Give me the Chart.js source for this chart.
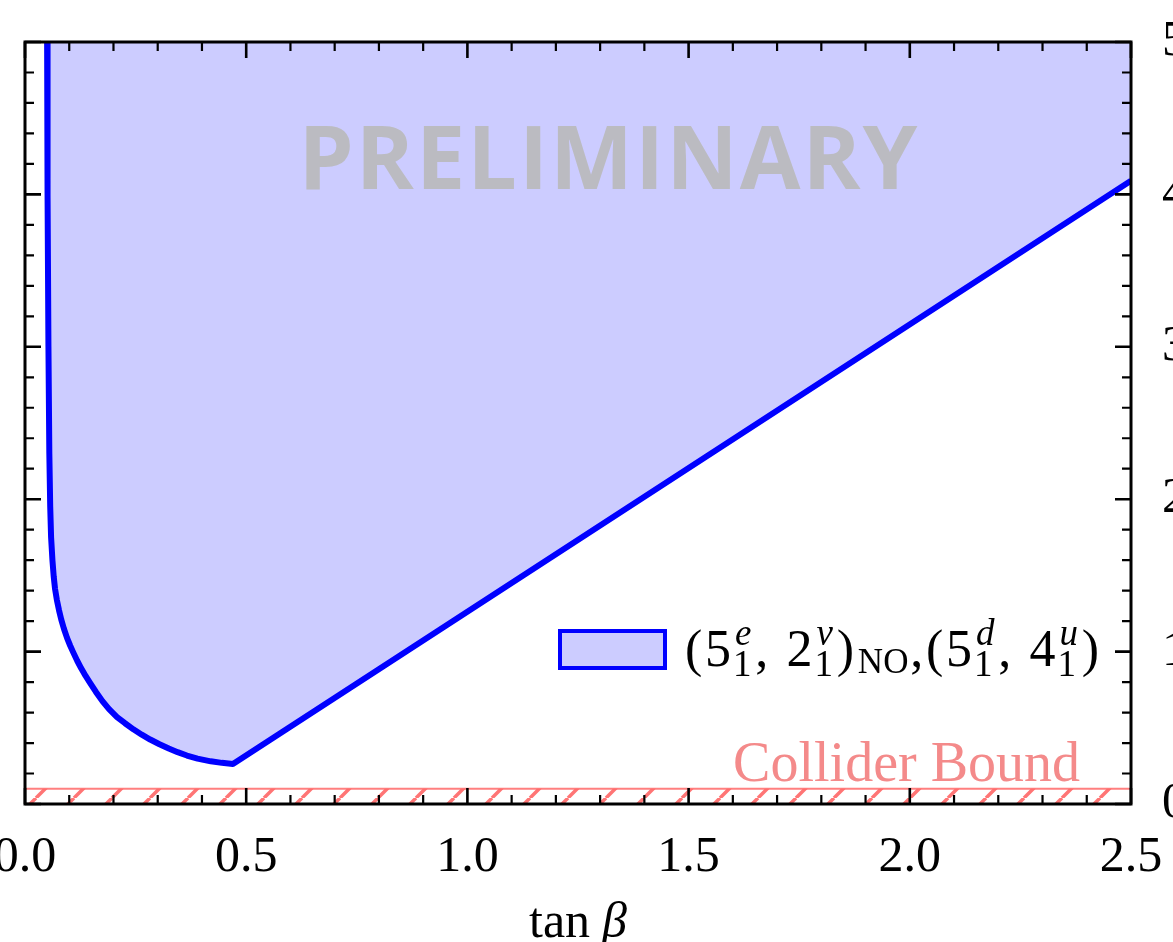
<!DOCTYPE html>
<html><head><meta charset="utf-8">
<script src="https://cdn.jsdelivr.net/npm/chart.js@4/dist/chart.umd.min.js"></script>
<style>
html,body{margin:0;padding:0;background:#fff;overflow:hidden;width:1173px;height:942px;}
#wrap{position:absolute;left:-40px;top:0;width:1253px;height:942px;}
</style></head><body>
<div id="wrap"><canvas id="c"></canvas></div>
<script>
// ---- data ----
const tanBeta     = [0.050, 0.051, 0.053, 0.055, 0.057, 0.059, 0.062, 0.065, 0.068, 0.072, 0.077, 0.082, 0.088, 0.095, 0.102, 0.109, 0.118, 0.127, 0.137, 0.147, 0.160, 0.175, 0.190, 0.208, 0.226, 0.245, 0.264, 0.283, 0.304, 0.325, 0.345, 0.366, 0.390, 0.420, 0.445, 0.470, 2.500];
const boundaryVal = [5.00,  4.00,  3.00,  2.30,  1.95,  1.75,  1.60,  1.49,  1.41,  1.34,  1.27,  1.21,  1.15,  1.09,  1.04,  0.995, 0.94,  0.89,  0.84,  0.795, 0.737, 0.675, 0.622, 0.570, 0.530, 0.490, 0.455, 0.423, 0.392, 0.364, 0.340, 0.318, 0.298, 0.280, 0.270, 0.262, 4.09];
const colliderX = [0, 2.5];
const colliderY = [0.1, 0.1];
const xMajorTicks = [0, 0.5, 1.0, 1.5, 2.0, 2.5];
const yMajorTicks = [0, 1, 2, 3, 4, 5];
const xMinorTicks = [0,0.1,0.2,0.3,0.4,0.5,0.6,0.7,0.8,0.9,1.0,1.1,1.2,1.3,1.4,1.5,1.6,1.7,1.8,1.9,2.0,2.1,2.2,2.3,2.4,2.5];
const yMinorTicks = [0,0.2,0.4,0.6,0.8,1.0,1.2,1.4,1.6,1.8,2.0,2.2,2.4,2.6,2.8,3.0,3.2,3.4,3.6,3.8,4.0,4.2,4.4,4.6,4.8,5.0];
const seriesLabelParts = [
  {t:'('}, {t:'5', sup:'e', sub:'1'}, {t:','}, {t:'2', sup:'ν', sub:'1'}, {t:')'}, {small:'NO'},
  {t:','}, {t:'('}, {t:'5', sup:'d', sub:'1'}, {t:','}, {t:'4', sup:'u', sub:'1'}, {t:')'}
];
const colliderLabel = 'Collider Bound';
const watermark = 'PRELIMINARY';
const xTitleParts = ['tan', 'β'];

const SERIF = '"Liberation Serif", "DejaVu Serif", serif';

function hatchPattern() {
  const s = 38;
  const c = document.createElement('canvas');
  c.width = s; c.height = s;
  const g = c.getContext('2d');
  g.strokeStyle = 'rgba(255,110,110,0.95)';
  g.lineWidth = 3.5;
  g.beginPath();
  for (const k of [-1, 0, 1]) { g.moveTo(k * s, s); g.lineTo(k * s + s, 0); }
  g.stroke();
  return g.createPattern(c, 'repeat');
}

const overlay = {
  id: 'overlay',
  afterDatasetsDraw(chart) {
    const {ctx, chartArea: ca} = chart;
    ctx.save();
    ctx.font = '700 88px "Open Sans", "Lato", sans-serif';
    try { ctx.letterSpacing = '2px'; } catch (e) {}
    ctx.fillStyle = 'rgba(186,186,188,0.92)';
    ctx.textAlign = 'center';
    ctx.textBaseline = 'alphabetic';
    ctx.fillText(watermark, ca.left + 584, ca.top + 147);
    ctx.restore();
  },
  afterDraw(chart) {
    const {ctx, chartArea: ca} = chart;
    const xs = chart.scales.x, ys = chart.scales.y;
    ctx.save();

    // collider label
    ctx.font = '56px ' + SERIF;
    ctx.fillStyle = '#f48a8a';
    ctx.textAlign = 'right';
    ctx.textBaseline = 'alphabetic';
    ctx.fillText(colliderLabel, ca.right - 51, ca.bottom - 23);

    // legend
    const textLeft = ca.left + 660, base = ca.top + 624, targetW = 414;
    const boxR = textLeft - 20, boxL = boxR - 105, boxT = ca.top + 589, boxH = 37;
    ctx.fillStyle = 'rgba(0,0,255,0.2)';
    ctx.fillRect(boxL, boxT, boxR - boxL, boxH);
    ctx.strokeStyle = '#0000ff';
    ctx.lineWidth = 4;
    ctx.strokeRect(boxL, boxT, boxR - boxL, boxH);

    const MAIN = '52px ' + SERIF, SUBF = '37px ' + SERIF, SUPF = 'italic 37px ' + SERIF, NOF = '35px ' + SERIF;
    const widths = seriesLabelParts.map(p => {
      if (p.small) { ctx.font = NOF; return ctx.measureText(p.small).width; }
      ctx.font = MAIN; let w = ctx.measureText(p.t).width;
      if (p.sup) {
        ctx.font = SUPF; const a = ctx.measureText(p.sup).width + 3;
        ctx.font = SUBF; const b = ctx.measureText(p.sub).width + 1;
        w += Math.max(a, b) + 2;
      }
      return w;
    });
    const weights = seriesLabelParts.map((p, i) => (i === seriesLabelParts.length - 1) ? 0 : ((p.t === ',' && i !== 6) ? 4 : 0.6));
    const wsum = weights.reduce((a, b) => a + b, 0);
    const natural = widths.reduce((a, b) => a + b, 0);
    const extra = Math.max(targetW - natural, 0);
    let x = textLeft;
    ctx.fillStyle = '#000';
    ctx.textAlign = 'left';
    seriesLabelParts.forEach((p, i) => {
      if (p.small) {
        ctx.font = NOF; ctx.fillText(p.small, x + 1, base + 7);
      } else {
        ctx.font = MAIN; ctx.fillText(p.t, x, base);
        if (p.sup) {
          const w0 = ctx.measureText(p.t).width;
          ctx.font = SUPF; ctx.fillText(p.sup, x + w0 + 4, base - 21);
          ctx.font = SUBF; ctx.fillText(p.sub, x + w0 + 2, base + 10);
        }
      }
      x += widths[i] + extra * weights[i] / wsum;
    });

    // x axis title
    ctx.font = '50px ' + SERIF;
    const w1 = ctx.measureText(xTitleParts[0]).width;
    ctx.font = 'italic 50px ' + SERIF;
    const w2 = ctx.measureText(xTitleParts[1]).width;
    const tw = w1 + 12 + w2;
    const cx = (ca.left + ca.right) / 2;
    ctx.font = '50px ' + SERIF;
    ctx.fillText(xTitleParts[0], cx - tw / 2, ca.bottom + 133);
    ctx.font = 'italic 50px ' + SERIF;
    ctx.fillText(xTitleParts[1], cx - tw / 2 + w1 + 12, ca.bottom + 133);

    // frame
    ctx.strokeStyle = '#000';
    ctx.lineWidth = 3;
    ctx.strokeRect(ca.left, ca.top, ca.right - ca.left, ca.bottom - ca.top);

    // inward ticks on all four sides
    const isMajorX = v => xMajorTicks.some(m => Math.abs(m - v) < 1e-6);
    const isMajorY = v => yMajorTicks.some(m => Math.abs(m - v) < 1e-6);
    xMinorTicks.forEach(v => {
      const px = xs.getPixelForValue(v);
      const L = isMajorX(v) ? 16 : 9;
      ctx.lineWidth = isMajorX(v) ? 2.6 : 2.2;
      ctx.beginPath();
      ctx.moveTo(px, ca.bottom); ctx.lineTo(px, ca.bottom - L);
      ctx.moveTo(px, ca.top); ctx.lineTo(px, ca.top + L);
      ctx.stroke();
    });
    yMinorTicks.forEach(v => {
      const py = ys.getPixelForValue(v);
      const L = isMajorY(v) ? 16 : 9;
      ctx.lineWidth = isMajorY(v) ? 2.6 : 2.2;
      ctx.beginPath();
      ctx.moveTo(ca.left, py); ctx.lineTo(ca.left + L, py);
      ctx.moveTo(ca.right, py); ctx.lineTo(ca.right - L, py);
      ctx.stroke();
    });
    ctx.restore();
  }
};

const ctx = document.getElementById('c').getContext('2d');
new Chart(ctx, {
  type: 'line',
  data: {
    datasets: [
      {
        label: 'allowed',
        data: tanBeta.map((t, i) => ({x: t, y: boundaryVal[i]})),
        borderColor: '#0000ff',
        borderWidth: 6,
        backgroundColor: 'rgba(0,0,255,0.2)',
        fill: 'end',
        pointRadius: 0,
        tension: 0,
        borderJoinStyle: 'round',
        order: 1
      },
      {
        label: colliderLabel,
        data: colliderX.map((t, i) => ({x: t, y: colliderY[i]})),
        borderColor: 'rgba(255,105,105,0.85)',
        borderWidth: 2,
        backgroundColor: hatchPattern(),
        fill: 'origin',
        pointRadius: 0,
        order: 2
      }
    ]
  },
  options: {
    responsive: true,
    maintainAspectRatio: false,
    devicePixelRatio: 1,
    animation: false,
    layout: {padding: {left: 65, top: 42, right: 0, bottom: 0}},
    plugins: {legend: {display: false}, tooltip: {enabled: false}},
    scales: {
      x: {
        type: 'linear', position: 'bottom', min: 0, max: 2.5,
        afterBuildTicks: s => { s.ticks = xMajorTicks.map(v => ({value: v})); },
        afterFit: s => { s.height = 138; s.paddingLeft = 0; s.paddingRight = 0; },
        grid: {display: false, drawTicks: false},
        border: {display: false},
        ticks: {
          padding: 24, color: '#000', maxRotation: 0, autoSkip: false,
          font: {family: SERIF, size: 50},
          callback: v => Number(v).toFixed(1)
        }
      },
      y: {
        type: 'linear', position: 'right', min: 0, max: 5,
        afterBuildTicks: s => { s.ticks = yMajorTicks.map(v => ({value: v})); },
        afterFit: s => { s.width = 82; s.paddingTop = 0; s.paddingBottom = 0; },
        grid: {display: false, drawTicks: false},
        border: {display: false},
        ticks: {
          padding: 31, color: '#000', autoSkip: false,
          font: {family: SERIF, size: 50},
          callback: v => String(v)
        }
      }
    }
  },
  plugins: [overlay]
});
</script>
</body></html>
